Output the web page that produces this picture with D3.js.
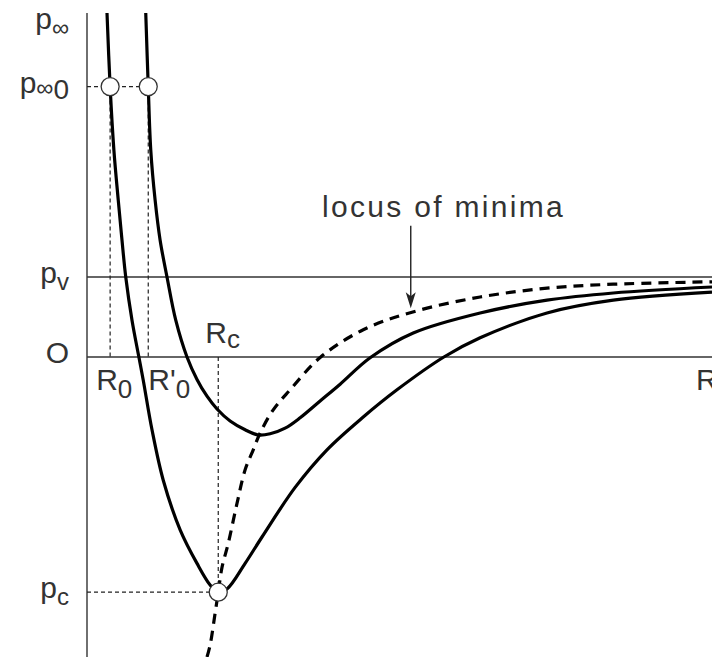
<!DOCTYPE html>
<html>
<head>
<meta charset="utf-8">
<script src="https://cdn.jsdelivr.net/npm/d3@7"></script>
<style>
  body { margin: 0; background: #fff; }
  svg { display: block; }
  text { font-family: "Liberation Sans", Arial, sans-serif; fill: #333; }
</style>
</head>
<body>
<svg id="chart"></svg>
<script>
const width = 712;
const height = 657;

// bubble radius R vs liquid pressure p (schematic units)
const innerCurve = [
  [0.32, 4.30], [0.37, 3.38], [0.43, 2.59], [0.50, 1.96], [0.56, 1.46],
  [0.62, 1.00], [0.72, 0.46], [0.83, 0.00], [0.90, -0.29], [1.04, -0.91],
  [1.22, -1.54], [1.49, -2.16], [1.76, -2.58], [1.97, -2.85], [2.10, -2.94],
  [2.24, -2.90], [2.53, -2.58], [2.80, -2.25], [3.33, -1.63], [3.84, -1.16],
  [4.42, -0.75], [4.96, -0.41], [5.71, 0.00], [6.29, 0.24], [7.36, 0.55],
  [8.42, 0.71], [10.0, 0.81]
];
const outerCurve = [
  [0.94, 4.30], [0.98, 3.38], [1.02, 2.59], [1.09, 1.96], [1.17, 1.46],
  [1.28, 1.00], [1.42, 0.46], [1.60, 0.00], [1.76, -0.28], [1.92, -0.49],
  [2.08, -0.65], [2.29, -0.80], [2.53, -0.91], [2.74, -0.975], [2.93, -0.96],
  [3.17, -0.89], [3.41, -0.76], [3.73, -0.55], [4.05, -0.34], [4.53, -0.01],
  [5.22, 0.30], [6.29, 0.55], [7.36, 0.71], [8.42, 0.80], [10.0, 0.875]
];
const locusCurve = [
  [1.92, -3.75], [1.97, -3.60], [2.05, -3.20], [2.10, -2.94], [2.16, -2.63],
  [2.26, -2.33], [2.40, -1.83], [2.53, -1.41], [2.66, -1.16], [2.77, -0.95],
  [2.98, -0.66], [3.25, -0.41], [3.74, 0.00], [4.42, 0.34], [5.20, 0.56],
  [6.29, 0.75], [7.36, 0.86], [8.42, 0.91], [10.0, 0.94]
];

// named levels
const pInf = 4.18, pInf0 = 3.38, pV = 1.0, pC = -2.94;
const R0 = 0.37, R0p = 0.98, Rc = 2.10;

const yLabels = [
  { main: "p", sub: "\u221E", tail: "", value: pInf },
  { main: "p", sub: "\u221E", tail: "0", value: pInf0 },
  { main: "p", sub: "v", tail: "", value: pV },
  { main: "O", sub: "", tail: "", value: 0 },
  { main: "p", sub: "c", tail: "", value: pC }
];
const xLabels = [
  { main: "R", sub: "0", value: R0, shift: -14 },
  { main: "R'", sub: "0", value: R0p, shift: 0 }
];
const annotation = { text: "locus of minima", R: 3.76, p: 1.75, arrowR: 5.18, arrowTop: 1.64, arrowTip: 0.61 };

const x = d3.scaleLinear().domain([0, 10]).range([87, 712]);
const y = d3.scaleLinear().domain([-3.75, 4.3]).range([657, 13]);

const svg = d3.select("#chart")
    .attr("width", width)
    .attr("height", height);

svg.append("clipPath").attr("id", "plot")
  .append("rect")
    .attr("x", x(0)).attr("y", y(4.3))
    .attr("width", x(10) - x(0)).attr("height", y(-3.75) - y(4.3));

// axes and the vapour pressure line
svg.append("line")
    .attr("x1", x(0)).attr("x2", x(0))
    .attr("y1", y(4.3)).attr("y2", y(-3.75))
    .attr("stroke", "#333").attr("stroke-width", 1.4);
[0, pV].forEach(v => {
  svg.append("line")
      .attr("x1", x(0)).attr("x2", x(10))
      .attr("y1", y(v)).attr("y2", y(v))
      .attr("stroke", "#333").attr("stroke-width", 1.4);
});

// thin dashed guides
const guides = [
  [[0, pInf0], [R0p, pInf0]],
  [[R0, pInf0], [R0, 0]],
  [[R0p, pInf0], [R0p, 0]],
  [[Rc, 0], [Rc, pC]],
  [[0, pC], [Rc, pC]]
];
guides.forEach(g => {
  svg.append("line")
      .attr("x1", x(g[0][0])).attr("y1", y(g[0][1]))
      .attr("x2", x(g[1][0])).attr("y2", y(g[1][1]))
      .attr("stroke", "#222").attr("stroke-width", 1.2)
      .attr("stroke-dasharray", "4,3");
});

const line = d3.line()
    .x(d => x(d[0]))
    .y(d => y(d[1]))
    .curve(d3.curveCatmullRom.alpha(0.5));

const curves = svg.append("g").attr("clip-path", "url(#plot)");
[innerCurve, outerCurve].forEach(c => {
  curves.append("path")
      .attr("d", line(c))
      .attr("fill", "none")
      .attr("stroke", "#000")
      .attr("stroke-width", 3.2);
});
curves.append("path")
    .attr("d", line(locusCurve))
    .attr("fill", "none")
    .attr("stroke", "#000")
    .attr("stroke-width", 3.2)
    .attr("stroke-dasharray", "10,7");

// open circles
[[R0, pInf0], [R0p, pInf0], [Rc, pC]].forEach(d => {
  svg.append("circle")
      .attr("cx", x(d[0])).attr("cy", y(d[1]))
      .attr("r", 9)
      .attr("fill", "#fff")
      .attr("stroke", "#333")
      .attr("stroke-width", 1.3);
});

// y labels
yLabels.forEach(l => {
  const t = svg.append("text")
      .attr("x", 69)
      .attr("y", y(l.value) + 6)
      .attr("text-anchor", "end")
      .attr("font-size", 30);
  t.append("tspan").text(l.main);
  if (l.sub) t.append("tspan").attr("font-size", 24).attr("dy", l.tail ? 3 : 7).text(l.sub);
  if (l.tail) t.append("tspan").attr("font-size", 28).attr("dy", 3).text(l.tail);
});

// x labels
xLabels.forEach(l => {
  const t = svg.append("text")
      .attr("x", x(l.value) + l.shift)
      .attr("y", y(0) + 33)
      .attr("font-size", 30);
  t.append("tspan").text(l.main);
  t.append("tspan").attr("font-size", 26).attr("dy", 8).text(l.sub);
});

const rc = svg.append("text")
    .attr("x", x(Rc) - 13)
    .attr("y", y(0) - 14)
    .attr("font-size", 30);
rc.append("tspan").text("R");
rc.append("tspan").attr("font-size", 26).attr("dy", 5).text("c");

// axis name, cut by the right edge as in the source figure
svg.append("text")
    .attr("x", x(10) - 16)
    .attr("y", y(0) + 33)
    .attr("font-size", 30)
    .text("R");

// annotation with arrow
svg.append("text")
    .attr("x", x(annotation.R))
    .attr("y", y(annotation.p))
    .attr("font-size", 30)
    .attr("letter-spacing", "2.3px")
    .text(annotation.text);

const ax = x(annotation.arrowR);
const tip = y(annotation.arrowTip);
svg.append("line")
    .attr("x1", ax).attr("x2", ax)
    .attr("y1", y(annotation.arrowTop)).attr("y2", tip - 8)
    .attr("stroke", "#222").attr("stroke-width", 1.4);
svg.append("path")
    .attr("d", `M${ax},${tip} L${ax - 5},${tip - 16} L${ax},${tip - 12} L${ax + 5},${tip - 16} Z`)
    .attr("fill", "#222");
</script>
</body>
</html>
